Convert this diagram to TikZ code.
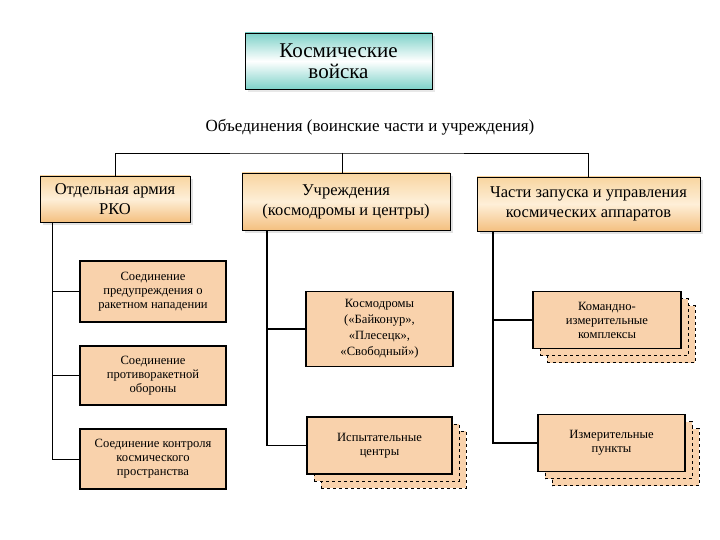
\documentclass[tikz,border=0pt]{standalone}
\usepackage{fontspec}
\setmainfont{Liberation Serif}
\usetikzlibrary{positioning,shadows}
\definecolor{tealc}{HTML}{7ED2C9}
\definecolor{orgtop}{HTML}{F8D5A0}
\definecolor{orgmid}{HTML}{FEEFD8}
\definecolor{orgbot}{HTML}{F4C080}
\definecolor{peach}{HTML}{F9D2AC}

\begin{document}
\begin{tikzpicture}[
  x=1pt,y=-1pt,
  title/.style={draw,line width=0.8pt,minimum width=187pt,minimum height=56pt,top color=tealc,bottom color=tealc,middle color=white,drop shadow={shadow xshift=3pt,shadow yshift=-3pt,fill=gray!35},font=\fontsize{21}{21}\selectfont,align=center},
  lvl/.style={draw,line width=0.8pt,top color=orgtop,bottom color=orgbot,middle color=orgmid,drop shadow={shadow xshift=3pt,shadow yshift=-3pt,fill=gray!45},font=\fontsize{16.5}{20}\selectfont,align=center},
  unit/.style={draw,line width=1.3pt,fill=peach,font=\fontsize{12.6}{14}\selectfont,align=center,minimum width=146pt,inner sep=2pt},
  stack/.style={unit,
    general shadow={shadow xshift=14pt,shadow yshift=-14pt,fill=peach,draw,dashed,line width=0.8pt},
    general shadow={shadow xshift=7pt,shadow yshift=-7pt,fill=peach,draw,dashed,line width=0.8pt}},
  ln/.style={line width=0.8pt},
  thk/.style={line width=1.8pt}
]
  \useasboundingbox (0,0) rectangle (720,540);

  \node[title] (kv) at (338.5,61) {Космические\\войска};
  \node[font=\fontsize{17}{18}\selectfont] (obed) at (370,127) {Объединения (воинские части и учреждения)};

  \node[lvl,minimum width=150pt,minimum height=46pt] (army) at (115,199) {Отдельная армия\\РКО};
  \node[lvl,minimum width=208pt,minimum height=57pt] (uchr) at (346,201.5) {Учреждения\\(космодромы и центры)};
  \node[lvl,minimum width=223pt,minimum height=54pt] (chasti) at (588.5,204) {Части запуска и управления\\космических аппаратов};

  \node[unit,minimum height=61pt] (s1) at (153,291.5) {Соединение\\предупреждения о\\ракетном нападении};
  \node[unit,minimum height=59pt] (s2) at (153,375.5) {Соединение\\противоракетной\\обороны};
  \node[unit,minimum height=60pt] (s3) at (153,459) {Соединение контроля\\космического\\пространства};

  \node[unit,minimum width=147pt,minimum height=75pt,font=\fontsize{12.6}{16}\selectfont] (kd) at (379.5,329) {Космодромы\\(«Байконур»,\\«Плесецк»,\\«Свободный»)};
  \node[stack,minimum width=145pt,minimum height=57pt] (ic) at (379.5,445.5) {Испытательные\\центры};

  \node[stack,minimum width=148pt,minimum height=57pt] (ki) at (607,320) {Командно-\\измерительные\\комплексы};
  \node[stack,minimum width=147pt,minimum height=57pt] (ip) at (611.5,443) {Измерительные\\пункты};

  \coordinate (bar) at (342,153);
  \draw[ln] (army.north) |- (bar) -| (chasti.north);
  \draw[ln] (bar) -- (bar |- uchr.north);

  \coordinate (ta) at ([xshift=13pt]army.south west);
  \coordinate (tb) at ([xshift=25pt]uchr.south west);
  \coordinate (tc) at ([xshift=16pt]chasti.south west);
  \foreach \n in {s1,s2,s3}
    \draw[ln] (ta) |- (\n.west);
  \foreach \n in {kd,ic}
    \draw[thk] (tb) |- (\n.west);
  \foreach \n in {ki,ip}
    \draw[thk] (tc) |- (\n.west);
\end{tikzpicture}
\end{document}
